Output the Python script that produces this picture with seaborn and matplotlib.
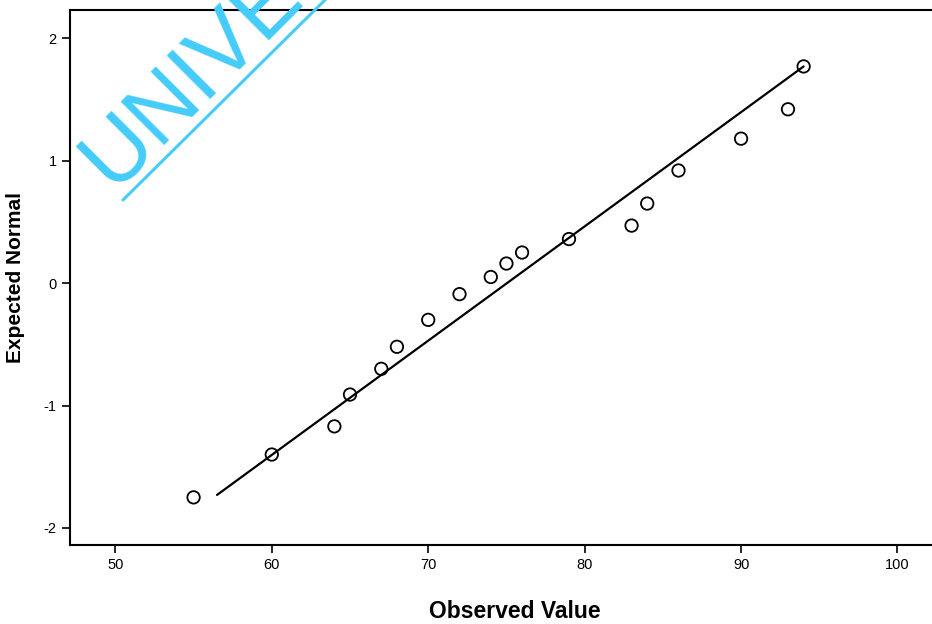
import seaborn as sns
import pandas as pd
import matplotlib.pyplot as plt
from matplotlib.lines import Line2D

# observed values and their expected normal scores
observed = [55, 60, 64, 65, 67, 68, 70, 72, 74, 75, 76, 79, 83, 84, 86, 90, 93, 94]
expected = [-1.75, -1.40, -1.17, -0.91, -0.70, -0.52, -0.30, -0.09, 0.05, 0.16,
            0.25, 0.36, 0.47, 0.65, 0.92, 1.18, 1.42, 1.77]

# reference line end points
line_x = [56.5, 94.0]
line_y = [-1.73, 1.77]

x_ticks = [50, 60, 70, 80, 90, 100]
y_ticks = [-2, -1, 0, 1, 2]

df = pd.DataFrame({'Observed Value': observed, 'Expected Normal': expected})
ref = pd.DataFrame({'x': line_x, 'y': line_y})

sns.set_style("white")
plt.rcParams['font.family'] = ['Liberation Sans', 'DejaVu Sans']
plt.rcParams['axes.unicode_minus'] = False

fig = plt.figure(figsize=(9.32, 6.24), dpi=100)
ax = fig.add_axes([70/932, 0.1266, 0.955, 0.857])

sns.lineplot(data=ref, x='x', y='y', color='black', linewidth=1.6, ax=ax)
sns.scatterplot(data=df, x='Observed Value', y='Expected Normal', s=80,
                facecolor='none', edgecolor='black', linewidth=1.3, ax=ax)

ax.set_xlim(47.1, 104)
ax.set_ylim(-2.139, 2.229)
ax.set_xticks(x_ticks)
ax.set_yticks(y_ticks)
ax.tick_params(axis='both', direction='out', length=6, width=1.2, labelsize=10.5,
               bottom=True, left=True, colors='black')
ax.set_xlabel('Observed Value', fontsize=16.5, fontweight='bold', labelpad=20,
              color='black')
ax.set_ylabel('Expected Normal', fontsize=15, fontweight='bold', color='black')
ax.yaxis.set_label_coords(-45/ (0.955 * 932), 0.5)
for sp in ['left', 'bottom', 'top']:
    ax.spines[sp].set_color('black')
    ax.spines[sp].set_linewidth(1.5)
ax.spines['right'].set_visible(False)

# watermark
fig.text(112/932, 1 - 190/624, 'UNIVE', color='#45ccfa', fontsize=64, rotation=45,
         rotation_mode='anchor', ha='left', va='baseline')
fig.add_artist(Line2D([123/932, 330/932], [1 - 200/624, 1 - (-5)/624],
                      color='#45ccfa', linewidth=2.2, transform=fig.transFigure))

fig.savefig('out.png', dpi=100)
